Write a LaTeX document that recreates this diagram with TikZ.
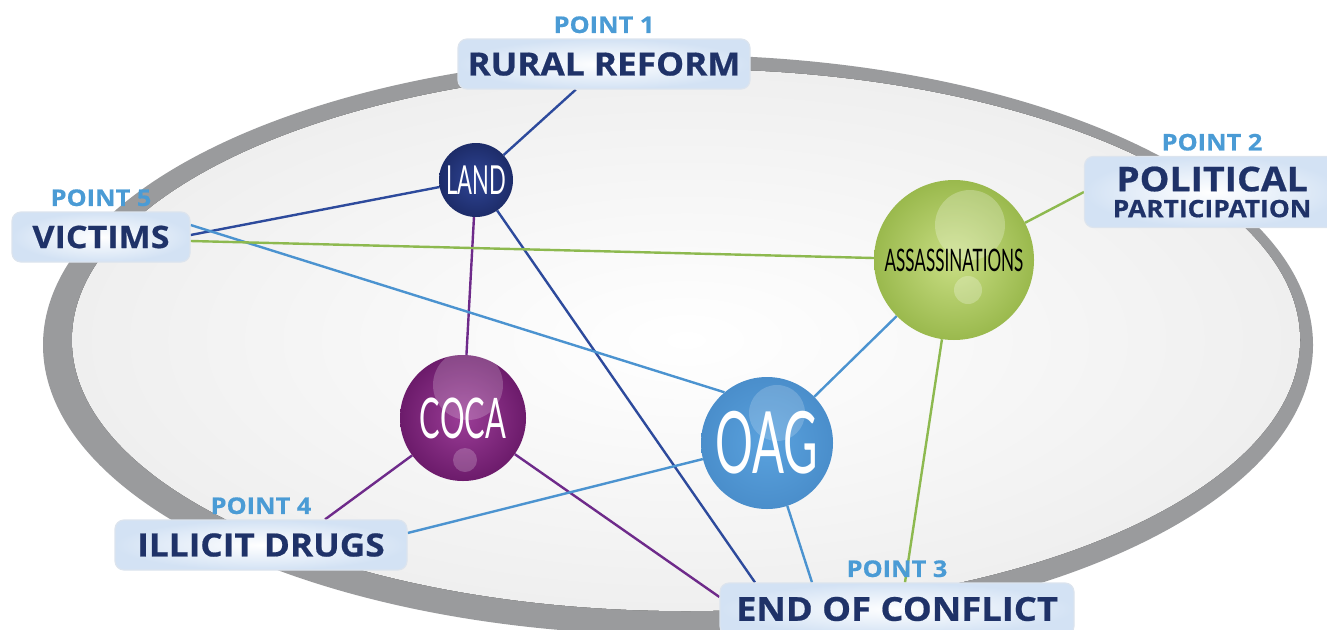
\documentclass[tikz,border=0pt]{standalone}
\usepackage{fontspec}
\setmainfont{Open Sans}[BoldFeatures={FakeStretch=1.1, FakeBold=0.6}]
\newfontfamily\condfont{Lato}[FakeStretch=0.55]
\usetikzlibrary{positioning,backgrounds}

\definecolor{navy}{HTML}{1F3268}
\definecolor{pointblue}{HTML}{4A9BD5}
\definecolor{boxblue}{HTML}{D3E2F4}
\definecolor{boxedge}{HTML}{DCE4EE}
\definecolor{ringgray}{HTML}{9A9B9D}
\definecolor{ellfill}{HTML}{EFEFEF}
\definecolor{landin}{HTML}{2F4596}
\definecolor{landout}{HTML}{1D2C69}
\definecolor{assin}{HTML}{C9DE84}
\definecolor{assout}{HTML}{9AB94D}
\definecolor{cocain}{HTML}{9B3D97}
\definecolor{cocaout}{HTML}{6C1B6B}
\definecolor{oagin}{HTML}{5AA2DE}
\definecolor{oagout}{HTML}{4A8ECB}
\definecolor{navyline}{HTML}{2D4A9C}
\definecolor{blueline}{HTML}{4B93D0}
\definecolor{greenline}{HTML}{8DB94F}
\definecolor{purpleline}{HTML}{6E2A8A}

\begin{document}
\begin{tikzpicture}[x=1pt,y=-1pt]
  \tikzset{
  topic/.style={rounded corners=9pt, draw=boxedge, line width=1.2pt, inner color=white, outer color=boxblue,
    minimum height=50pt, text=navy, font=\bfseries\fontsize{32}{34}\selectfont},
  pointlbl/.style={text=pointblue, inner sep=0pt, font=\bfseries\fontsize{23}{25}\selectfont},
  issue/.style={circle, inner sep=0pt, text=white},
  link/.style={line width=2.4pt},
  }
  \useasboundingbox (0,0) rectangle (1327,629);

  %topics
  \node[topic, minimum width=292pt] (rural) at (604,64) {RURAL REFORM};
  \node[pointlbl, above=5pt of rural] (p1) {POINT 1};
  \node[topic, minimum width=255pt, minimum height=71pt, align=center, font=\bfseries\fontsize{34}{36}\selectfont] (political) at (1212,192)
    {POLITICAL\\[-10pt]{\fontsize{24}{26}\selectfont PARTICIPATION}};
  \node[pointlbl, above=5pt of political] (p2) {POINT 2};
  \node[topic, minimum width=354pt, minimum height=52pt, font=\bfseries\fontsize{33}{35}\selectfont] (endc) at (897,609) {END OF CONFLICT};
  \node[pointlbl, above=5pt of endc] (p3) {POINT 3};
  \node[topic, minimum width=292pt] (illicit) at (261,545) {ILLICIT DRUGS};
  \node[pointlbl, above=5pt of illicit] (p4) {POINT 4};
  \node[topic, minimum width=178pt, font=\bfseries\fontsize{31}{33}\selectfont] (victims) at (101,237) {VICTIMS};
  \node[pointlbl, above=5pt of victims] (p5) {POINT 5};

  %issues
  \node[issue, minimum size=74pt, inner color=landin, outer color=landout,
    font=\condfont\fontsize{40}{42}\selectfont] (land) at (476,180) {LAND};
  \node[issue, minimum size=160pt, inner color=assin, outer color=assout, text=black,
    font=\condfont\fontsize{31}{33}\selectfont,
    path picture={
      \fill[white, opacity=0.25] ([xshift=16pt,yshift=35pt]path picture bounding box.center) circle (35pt);
      \fill[white, opacity=0.25] ([xshift=14pt,yshift=-30pt]path picture bounding box.center) circle (14pt);
    }] (ass) at (954,260) {ASSASSINATIONS};
  \node[issue, minimum size=126pt, inner color=cocain, outer color=cocaout,
    font=\condfont\fontsize{56}{58}\selectfont,
    path picture={
      \fill[white, opacity=0.2] ([xshift=5pt,yshift=33pt]path picture bounding box.center) circle (35pt);
      \fill[white, opacity=0.2] ([xshift=2pt,yshift=-42pt]path picture bounding box.center) circle (12pt);
    }] (coca) at (463,418) {COCA};
  \node[issue, minimum size=132pt, inner color=oagin, outer color=oagout,
    font=\condfont\fontsize{86}{88}\selectfont,
    path picture={
      \fill[white, opacity=0.18] ([xshift=10pt,yshift=30pt]path picture bounding box.center) circle (28pt);
    }] (oag) at (767,443) {OAG};

  \begin{scope}[on background layer]
  %ring
  \fill[ringgray] (678,345) ellipse [x radius=635, y radius=290];
  \fill[inner color=white, outer color=ellfill] (686,340) ellipse [x radius=614, y radius=271];
  %links
  \draw[link, navyline] (land) -- (rural);
  \draw[link, navyline] (land) -- ([yshift=2pt]victims.east);
  \draw[link, purpleline] (land) -- (coca);
  \draw[link, navyline] (land) -- ([xshift=-142pt]endc.north);
  \draw[link, blueline] ([yshift=12pt]victims.east) -- (oag.130);
  \draw[link, greenline] ([yshift=-4pt]victims.east) -- (ass);
  \draw[link, greenline] (ass) -- (political.west);
  \draw[link, greenline] (ass) -- ([xshift=8pt]endc.north);
  \draw[link, blueline] (ass) -- (oag);
  \draw[link, purpleline] (coca) -- ([xshift=64pt]illicit.north);
  \draw[link, purpleline] (coca) -- ([yshift=12pt]endc.west);
  \draw[link, blueline] (oag) -- ([yshift=12pt]illicit.east);
  \draw[link, blueline] (oag) -- ([xshift=-85pt]endc.north);
  \end{scope}
\end{tikzpicture}
\end{document}
